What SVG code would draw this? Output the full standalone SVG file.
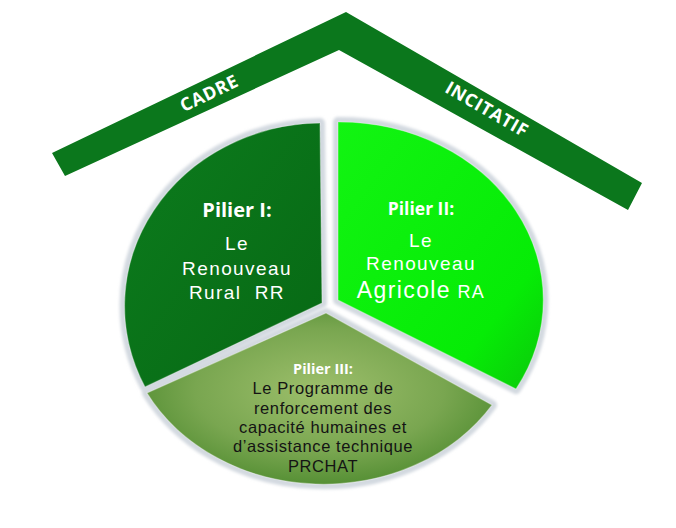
<svg xmlns="http://www.w3.org/2000/svg" width="676" height="528" viewBox="0 0 676 528">
  <style>
    .band { fill: #0b771c; }
    .roof-text { font-family: "Open Sans", "Liberation Sans", sans-serif; font-weight: 700; font-size: 18px; fill: #ffffff; letter-spacing: 0.6px; text-anchor: middle; }
    .rim { fill: none; stroke: #d3d9e0; stroke-width: 10; stroke-linejoin: round; }
    .edge { fill: none; stroke: #ffffff; stroke-opacity: 0.35; stroke-width: 1.2; }
    .title { font-family: "Open Sans", "Liberation Sans", sans-serif; font-weight: 700; fill: #ffffff; text-anchor: middle; }
    .body { font-family: "Liberation Sans", Arial, sans-serif; fill: #ffffff; text-anchor: middle; letter-spacing: 1.4px; white-space: pre; font-size: 19px; }
    .body3 { font-family: "Liberation Sans", Arial, sans-serif; fill: #141414; text-anchor: middle; font-size: 16.5px; letter-spacing: 0.6px; }
  </style>
  <defs>
    <filter id="soft" x="-10%" y="-10%" width="120%" height="120%">
      <feGaussianBlur stdDeviation="1.6"/>
    </filter>
    <linearGradient id="g1" x1="0" y1="0" x2="1" y2="1">
      <stop offset="0" stop-color="#0c7c1d"/>
      <stop offset="1" stop-color="#076814"/>
    </linearGradient>
    <linearGradient id="g2" x1="0" y1="0" x2="1" y2="1">
      <stop offset="0" stop-color="#12f412"/>
      <stop offset="0.75" stop-color="#06ec06"/>
      <stop offset="1" stop-color="#0bc80b"/>
    </linearGradient>
    <radialGradient id="g3" cx="0.5" cy="0.45" r="0.6">
      <stop offset="0" stop-color="#9dbf6b"/>
      <stop offset="0.6" stop-color="#79a650"/>
      <stop offset="1" stop-color="#4d8a2e"/>
    </radialGradient>
  </defs>

  <g id="roof">
    <polygon class="band" points="52,153 346,12 642,183 628,210 339,50 65,176"/>
    <text class="roof-text" transform="translate(209,93) rotate(-25.6)" y="6.5">CADRE</text>
    <text class="roof-text" transform="translate(487,109) rotate(30)" y="6.5">INCITATIF</text>
  </g>

  <g id="pilier1">
    <path class="rim" filter="url(#soft)" d="M322,303 L320,123 A198 183 0 0 0 145,387 Z"/>
    <path fill="url(#g1)" d="M322,303 L320,123 A198 183 0 0 0 145,387 Z"/>
    <path class="edge" d="M322,303 L320,123 A198 183 0 0 0 145,387 Z"/>
    <text class="title" x="237" y="217" font-size="20">Pilier I:</text>
    <text class="body" x="237" y="250">Le</text>
    <text class="body" x="237" y="275">Renouveau</text>
    <text class="body" x="237" y="299">Rural  RR</text>
  </g>

  <g id="pilier2">
    <path class="rim" filter="url(#soft)" d="M338,300 L338,122 A204 178 0 0 1 516,389 Z"/>
    <path fill="url(#g2)" d="M338,300 L338,122 A204 178 0 0 1 516,389 Z"/>
    <path class="edge" d="M338,300 L338,122 A204 178 0 0 1 516,389 Z"/>
    <text class="title" x="421" y="215" font-size="17.5">Pilier II:</text>
    <text class="body" x="421" y="247">Le</text>
    <text class="body" x="421" y="270">Renouveau</text>
    <text class="body" x="421" y="298"><tspan font-size="23">Agricole</tspan><tspan font-size="18"> RA</tspan></text>
  </g>

  <g id="pilier3">
    <path class="rim" filter="url(#soft)" d="M326,313 L492,405 A200 172 0 0 1 147,393 Z"/>
    <path fill="url(#g3)" d="M326,313 L492,405 A200 172 0 0 1 147,393 Z"/>
    <path class="edge" d="M326,313 L492,405 A200 172 0 0 1 147,393 Z"/>
    <text class="title" x="323" y="374" font-size="14.5">Pilier III:</text>
    <text class="body3" x="323" y="394">Le Programme de</text>
    <text class="body3" x="323" y="414">renforcement des</text>
    <text class="body3" x="323" y="433">capacité humaines et</text>
    <text class="body3" x="323" y="452">d’assistance technique</text>
    <text class="body3" x="323" y="472">PRCHAT</text>
  </g>
</svg>
